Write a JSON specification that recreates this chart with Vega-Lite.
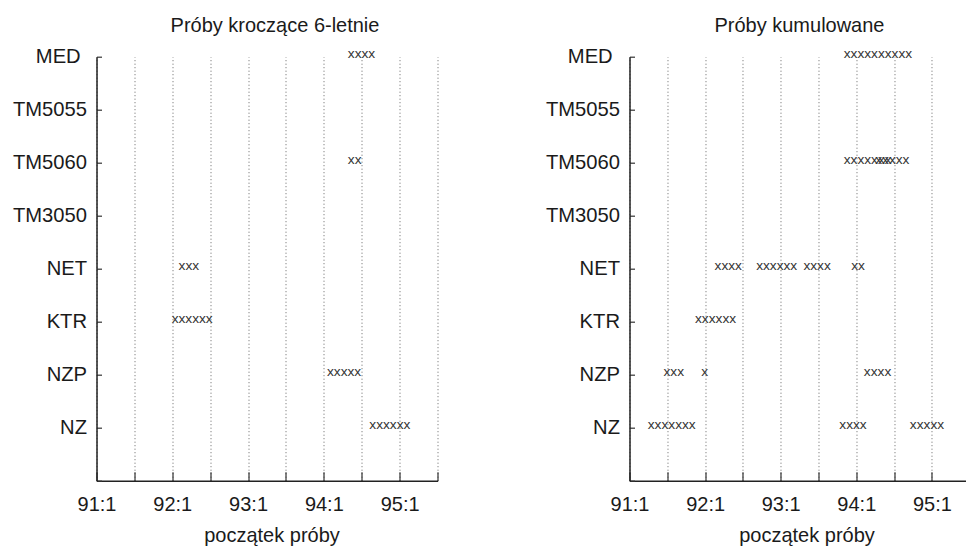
{
  "$schema": "https://vega.github.io/schema/vega-lite/v6.json",
  "padding": {"left": 11.5, "top": 15.7, "right": 0, "bottom": 0},
  "background": "white",
  "config": {
    "view": {"stroke": null},
    "font": "Liberation Sans",
    "concat": {"spacing": 106}
  },
  "datasets": {
    "proby": [
      {"proba": "kroczace", "zmienna": "MED", "start": 39.8, "znaki": "xxxx"},
      {"proba": "kroczace", "zmienna": "TM5060", "start": 39.8, "znaki": "xx"},
      {"proba": "kroczace", "zmienna": "NET", "start": 13.0, "znaki": "xxx"},
      {"proba": "kroczace", "zmienna": "KTR", "start": 11.9, "znaki": "xxxxxx"},
      {"proba": "kroczace", "zmienna": "NZP", "start": 36.5, "znaki": "xxxxx"},
      {"proba": "kroczace", "zmienna": "NZ", "start": 43.2, "znaki": "xxxxxx"},
      {"proba": "kumulowane", "zmienna": "MED", "start": 34.0, "znaki": "xxxxxxxxxx"},
      {"proba": "kumulowane", "zmienna": "TM5060", "start": 34.0, "znaki": "xxxxxxx"},
      {"proba": "kumulowane", "zmienna": "TM5060", "start": 39.0, "znaki": "xxxxx"},
      {"proba": "kumulowane", "zmienna": "NET", "start": 13.5, "znaki": "xxxx"},
      {"proba": "kumulowane", "zmienna": "NET", "start": 20.1, "znaki": "xxxxxx"},
      {"proba": "kumulowane", "zmienna": "NET", "start": 27.6, "znaki": "xxxx"},
      {"proba": "kumulowane", "zmienna": "NET", "start": 35.2, "znaki": "xx"},
      {"proba": "kumulowane", "zmienna": "KTR", "start": 10.4, "znaki": "xxxxxx"},
      {"proba": "kumulowane", "zmienna": "NZP", "start": 5.4, "znaki": "xxx"},
      {"proba": "kumulowane", "zmienna": "NZP", "start": 11.4, "znaki": "x"},
      {"proba": "kumulowane", "zmienna": "NZP", "start": 37.2, "znaki": "xxxx"},
      {"proba": "kumulowane", "zmienna": "NZ", "start": 2.9, "znaki": "xxxxxxx"},
      {"proba": "kumulowane", "zmienna": "NZ", "start": 33.3, "znaki": "xxxx"},
      {"proba": "kumulowane", "zmienna": "NZ", "start": 44.5, "znaki": "xxxxx"}
    ]
  },
  "hconcat": [
    {
      "width": 341,
      "height": 424,
      "data": {"name": "proby"},
      "transform": [{"filter": "datum.proba == 'kroczace'"}],
      "title": {"text": "Próby kroczące 6-letnie", "fontSize": 20, "fontWeight": "normal", "frame": "group", "anchor": "middle", "dx": 8, "baseline": "alphabetic", "offset": -5.5, "color": "#1a1a1a"},
      "mark": {"type": "text", "align": "left", "baseline": "alphabetic", "dy": 1.5, "fontSize": 13.7, "color": "#333"},
      "encoding": {
        "x": {
          "field": "start", "type": "quantitative",
          "scale": {"domain": [0, 54], "nice": false, "zero": false},
          "title": "początek próby",
          "axis": {
            "values": [0, 6, 12, 18, 24, 30, 36, 42, 48, 54],
            "labelExpr": "datum.value % 12 == 0 ? (91 + datum.value / 12) + ':1' : ''",
            "grid": true, "gridDash": [1, 2.5], "gridColor": "#666", "gridWidth": 1,
            "tickSize": -9, "tickColor": "#333", "tickWidth": 1.2,
            "domainColor": "#222", "domainWidth": 1.5,
            "labelFontSize": 20, "labelPadding": 23, "labelColor": "#1a1a1a", "labelFlush": false, "labelOverlap": false,
            "titleFontSize": 20, "titleFontWeight": "normal", "titleColor": "#1a1a1a",
            "titleX": 175, "titleY": 61, "titleBaseline": "alphabetic"
          }
        },
        "y": {
          "field": "zmienna", "type": "nominal",
          "scale": {"type": "point", "domain": ["MED", "TM5055", "TM5060", "TM3050", "NET", "KTR", "NZP", "NZ", ""], "padding": 0},
          "title": null,
          "axis": {
            "tickSize": -5, "tickColor": "#333", "tickWidth": 1.2,
            "domainColor": "#222", "domainWidth": 1.5,
            "labelFontSize": 20.2, "labelColor": "#1a1a1a", "grid": false,
            "labelPadding": {"condition": {"test": "datum.label == 'MED'", "value": 21.3}, "value": 15}
          }
        },
        "text": {"field": "znaki"}
      }
    },
    {
      "width": 336,
      "height": 424,
      "data": {"name": "proby"},
      "transform": [{"filter": "datum.proba == 'kumulowane'"}],
      "title": {"text": "Próby kumulowane", "fontSize": 20, "fontWeight": "normal", "frame": "group", "anchor": "middle", "dx": 2, "baseline": "alphabetic", "offset": -5.5, "color": "#1a1a1a"},
      "mark": {"type": "text", "align": "left", "baseline": "alphabetic", "dy": 1.5, "fontSize": 13.7, "color": "#333"},
      "encoding": {
        "x": {
          "field": "start", "type": "quantitative",
          "scale": {"domain": [0, 53.33], "nice": false, "zero": false},
          "title": "początek próby",
          "axis": {
            "values": [0, 6, 12, 18, 24, 30, 36, 42, 48],
            "labelExpr": "datum.value % 12 == 0 ? (91 + datum.value / 12) + ':1' : ''",
            "grid": true, "gridDash": [1, 2.5], "gridColor": "#666", "gridWidth": 1,
            "tickSize": -9, "tickColor": "#333", "tickWidth": 1.2,
            "domainColor": "#222", "domainWidth": 1.5,
            "labelFontSize": 20, "labelPadding": 23, "labelColor": "#1a1a1a", "labelFlush": false, "labelOverlap": false,
            "titleFontSize": 20, "titleFontWeight": "normal", "titleColor": "#1a1a1a",
            "titleX": 177, "titleY": 61, "titleBaseline": "alphabetic"
          }
        },
        "y": {
          "field": "zmienna", "type": "nominal",
          "scale": {"type": "point", "domain": ["MED", "TM5055", "TM5060", "TM3050", "NET", "KTR", "NZP", "NZ", ""], "padding": 0},
          "title": null,
          "axis": {
            "tickSize": -5, "tickColor": "#333", "tickWidth": 1.2,
            "domainColor": "#222", "domainWidth": 1.5,
            "labelFontSize": 20.2, "labelColor": "#1a1a1a", "grid": false,
            "labelPadding": {"condition": {"test": "datum.label == 'MED'", "value": 22.3}, "value": 15}
          }
        },
        "text": {"field": "znaki"}
      }
    }
  ]
}
